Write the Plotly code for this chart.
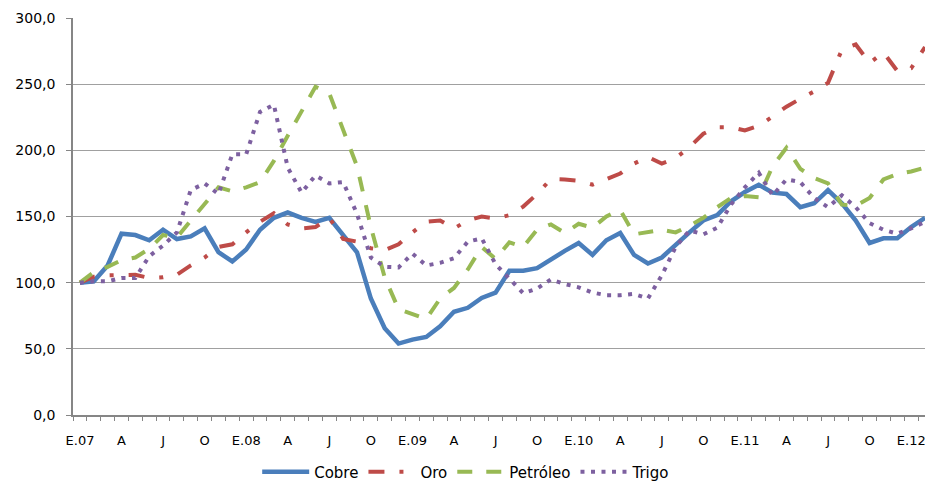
import plotly.graph_objects as go

# Monthly index (Jan 2007 = 100), Jan 2007 .. Feb 2012
months = list(range(62))
quarter_labels = ["E.07", "A", "J", "O", "E.08", "A", "J", "O", "E.09", "A", "J", "O",
                  "E.10", "A", "J", "O", "E.11", "A", "J", "O", "E.12"]

cobre = [100, 101, 113, 137, 136, 132, 140, 133, 135, 141,
         123, 116, 125, 140, 149, 153, 149, 146, 149, 136,
         123, 88, 65.5, 54, 57, 59, 67, 78, 81, 88.5,
         92.5, 109, 109, 111, 118, 124, 130, 121, 132, 137.5,
         121, 114.5, 119, 129, 138, 147, 151, 161.5, 168.5, 174,
         168, 167, 157, 160, 170, 160, 147, 130, 133.5, 133.5,
         142, 149]

oro = [100, 104.5, 105.5, 106, 106, 103.5, 104, 106, 113, 119,
       127, 129, 138, 146, 152.5, 144, 141, 142, 149, 133,
       131, 126, 124.5, 129, 138, 146, 147, 141, 147, 150,
       148.5, 151, 157.5, 167, 178.3, 178, 177, 174, 178, 182.5,
       190, 195, 190, 194, 202.5, 212.5, 217.5, 217.5, 215, 218.5,
       225.5, 233, 239, 244.5, 251, 276, 280, 266, 274, 260,
       262, 278]

petroleo = [100, 108, 112, 117, 119, 125.5, 136, 134, 147, 160,
            172, 169, 172, 176, 192, 211, 229, 248, 243, 215,
            188, 142, 104, 80, 76, 72.5, 88, 96, 110, 127,
            118, 130.5, 127, 140, 144, 137.5, 144.5, 141.5, 150, 155,
            136.5, 138.5, 140, 138, 143, 149, 157, 164, 165.5, 164.5,
            188, 202, 186, 179, 175, 159, 158, 164, 178, 182,
            184, 187]

trigo = [100, 101, 101, 103.5, 103.5, 120, 128, 138, 170, 175,
         167, 197, 197, 229, 234.5, 187, 168, 181, 175, 176,
         152, 119, 112, 111.5, 122, 113, 115, 118.5, 131, 133.5,
         114, 102.5, 92, 95.5, 102.5, 99, 96.5, 92.5, 90.5, 90.5,
         91.5, 88, 105.5, 127, 139.5, 136.5, 141.5, 159, 172, 183,
         166, 178, 176, 164, 157, 166, 157, 145, 140, 137,
         141, 146]

series = [
    ("Cobre", cobre, "#4A7EBB", "solid", 4.5),
    ("Oro", oro, "#BE4B48", "16px,15px,4px,15px", 4),
    ("Petróleo", petroleo, "#98B954", "15px,14px", 4),
    ("Trigo", trigo, "#7D60A0", "4px,6.5px", 4),
]

fig = go.Figure()
for name, values, color, dash, width in series:
    fig.add_trace(go.Scatter(
        x=months, y=values, name=name, mode="lines",
        line=dict(color=color, width=width, dash=dash),
    ))

# Tick marks sit on the month boundaries; quarter labels are shifted
# half a month to the right so they sit under the month itself.
boundaries = [m - 0.5 for m in months] + [months[-1] + 0.5]
boundary_text = [quarter_labels[m // 3] if m % 3 == 0 else "" for m in months] + [""]

axis_gray = "#868686"
x_range = [-0.5, 61.0]
plot_width = 925 - 73
half_month_px = int(round(0.5 * plot_width / (x_range[1] - x_range[0])))

fig.update_layout(
    width=925, height=482,
    margin=dict(l=73, r=0, t=18, b=67, autoexpand=False),
    paper_bgcolor="white", plot_bgcolor="white",
    separators=",.",
    font=dict(family="DejaVu Sans", size=13, color="#000000"),
    showlegend=True,
    legend=dict(
        orientation="h", x=0.4615, xanchor="center", y=-0.1436, yanchor="middle",
        font=dict(size=15, color="#000000"), itemwidth=47,
    ),
    xaxis=dict(
        range=x_range,
        tickmode="array", tickvals=boundaries, ticktext=boundary_text,
        ticks="outside", ticklen=4, tickcolor=axis_gray, tickwidth=1,
        ticklabelshift=half_month_px, ticklabelstandoff=9,
        ticklabeloverflow="allow",
        tickfont=dict(size=13),
        showgrid=False, zeroline=False,
        showline=True, linecolor=axis_gray, linewidth=1.5,
    ),
    yaxis=dict(
        range=[0, 300], tickmode="array", tickvals=[0, 50, 100, 150, 200, 250, 300],
        tickformat=".1f", tickfont=dict(size=14),
        ticks="outside", ticklen=5, tickcolor=axis_gray, tickwidth=1,
        showgrid=True, gridcolor="#a0a0a0", gridwidth=1.2,
        zeroline=False, showline=True, linecolor=axis_gray, linewidth=1.5,
        ticklabelstandoff=8,
    ),
)

fig.write_html("out.html")
